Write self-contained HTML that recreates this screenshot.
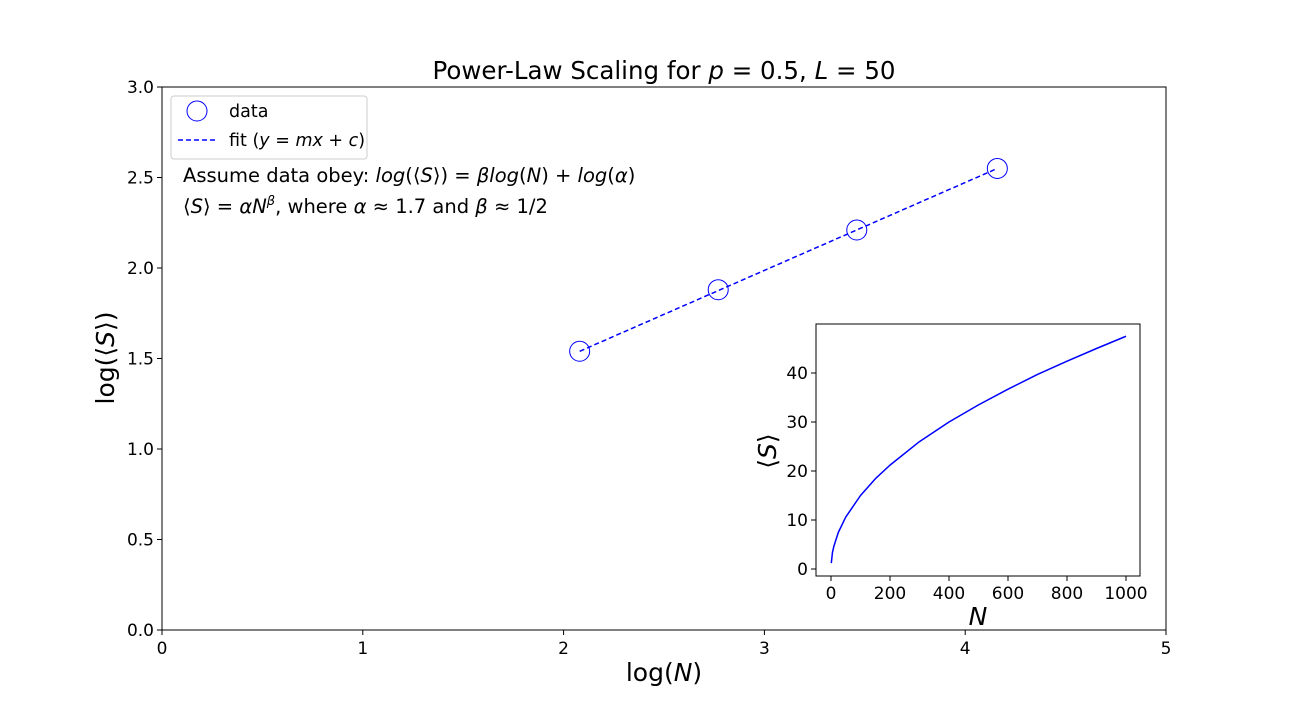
<!DOCTYPE html>
<html><head><meta charset="utf-8"><style>
body{margin:0;background:#fff;}
text{font-family:"DejaVu Sans","Liberation Sans",sans-serif;fill:#000;}
</style></head><body>
<svg id="chart" width="1296" height="720" xmlns="http://www.w3.org/2000/svg">
<rect width="1296" height="720" fill="#fff"/>
<text x="664" y="79" font-size="24.5" text-anchor="middle">Power-Law Scaling for <tspan font-style="italic">p</tspan> = 0.5,  <tspan font-style="italic">L</tspan> = 50</text>
<g id="main"></g>
<g id="inset"></g>
</svg>
<script>
const logN=[2.08,2.77,3.46,4.16];
const logS=[1.54,1.88,2.21,2.55];
const xTicks=[0,1,2,3,4,5];
const yTicks=[0.0,0.5,1.0,1.5,2.0,2.5,3.0];
const insetN=[1,5,10,25,50,100,150,200,300,400,500,600,700,800,900,1000];
const insetS=[1.2,3.4,4.7,7.5,10.6,15,18.4,21.2,26,30,33.5,36.7,39.7,42.4,45,47.5];
const insetXTicks=[0,200,400,600,800,1000];
const insetYTicks=[0,10,20,30,40];

const NS="http://www.w3.org/2000/svg";
function mk(tag,attrs,parent,txt){const e=document.createElementNS(NS,tag);for(const k in attrs)e.setAttribute(k,attrs[k]);if(txt!==undefined)e.textContent=txt;parent.appendChild(e);return e;}
const main=document.getElementById('main');
const X=v=>162+v*(1166-162)/5;
const Y=v=>630-v*(630-87)/3;
let r=mk('rect',{x:162,y:87,width:1004,height:543,fill:'none',stroke:'#000','stroke-width':1},main);


xTicks.forEach(t=>{
  let l=mk('line',{x1:X(t),x2:X(t),y1:630,y2:635,stroke:'#000'},main);
  
  
  let tx=mk('text',{x:X(t),y:654,'font-size':17,'text-anchor':'middle'},main,String(t));
  
  
});
yTicks.forEach(t=>{
  let l=mk('line',{x1:157,x2:162,y1:Y(t),y2:Y(t),stroke:'#000'},main);
  
  
  let tx=mk('text',{x:154,y:Y(t)+6,'font-size':17,'text-anchor':'end'},main,t.toFixed(1));
  
  
});
let xl=mk('text',{x:664,y:681,'font-size':25,'text-anchor':'middle'},main);
xl.innerHTML='log(<tspan font-style="italic">N</tspan>)';


let yl=mk('text',{x:0,y:0,'font-size':25,'text-anchor':'middle',transform:'translate(114,358) rotate(-90)'},main);
yl.innerHTML='log(⟨<tspan font-style="italic">S</tspan>⟩)';


let fit=mk('line',{x1:X(logN[0]),y1:Y(logS[0]),x2:X(logN[logN.length-1]),y2:Y(logS[logS.length-1]),stroke:'#0000ff','stroke-width':1.5,'stroke-dasharray':'5,3'},main);


logN.forEach((v,i)=>{
  let c=mk('circle',{cx:X(v),cy:Y(logS[i]),r:10,fill:'none',stroke:'#0000ff','stroke-width':1},main);
  
  
});
let lg=mk('g',{},main);


mk('rect',{x:171,y:96,width:196,height:63,rx:3,fill:'#fff',stroke:'#ccc'},lg);
mk('circle',{cx:197,cy:111,r:10,fill:'none',stroke:'#0000ff'},lg);
let le1=mk('text',{x:229,y:117,'font-size':17.5},lg,'data');


mk('line',{x1:178,x2:216,y1:140,y2:140,stroke:'#0000ff','stroke-width':1.5,'stroke-dasharray':'5,3'},lg);
let le2=mk('text',{x:229,y:146,'font-size':17.5},lg);
le2.innerHTML='fit (<tspan font-style="italic">y</tspan> = <tspan font-style="italic">mx</tspan> + <tspan font-style="italic">c</tspan>)';


let a1=mk('text',{x:183,y:182,'font-size':19.5},main);
a1.innerHTML='Assume data obey: <tspan font-style="italic">log</tspan>(⟨<tspan font-style="italic">S</tspan>⟩) = <tspan font-style="italic">βlog</tspan>(<tspan font-style="italic">N</tspan>) + <tspan font-style="italic">log</tspan>(<tspan font-style="italic">α</tspan>)';


let a2=mk('text',{x:183,y:213,'font-size':19.5},main);
a2.innerHTML='⟨<tspan font-style="italic">S</tspan>⟩ = <tspan font-style="italic">αN</tspan><tspan font-style="italic" font-size="13" dy="-8">β</tspan><tspan dy="8">, where </tspan><tspan font-style="italic">α</tspan> ≈ 1.7 and <tspan font-style="italic">β</tspan> ≈ 1/2';



const ins=document.getElementById('inset');
const IX=v=>831+v*(1126-831)/1000;
const IY=v=>569-v*(569-373)/40;
let ir=mk('rect',{x:816,y:324,width:324,height:252,fill:'#fff',stroke:'#000'},ins);


insetXTicks.forEach(t=>{
  mk('line',{x1:IX(t),x2:IX(t),y1:576,y2:581,stroke:'#000'},ins);
  let tx=mk('text',{x:IX(t),y:599,'font-size':17,'text-anchor':'middle'},ins,String(t));
  
  
});
insetYTicks.forEach(t=>{
  mk('line',{x1:811,x2:816,y1:IY(t),y2:IY(t),stroke:'#000'},ins);
  let tx=mk('text',{x:808,y:IY(t)+6,'font-size':17,'text-anchor':'end'},ins,String(t));
  
  
});
let ixl=mk('text',{x:978,y:625,'font-size':25,'font-style':'italic','text-anchor':'middle'},ins,'N');


let iyl=mk('text',{x:0,y:0,'font-size':25,'text-anchor':'middle',transform:'translate(776,451) rotate(-90)'},ins);
iyl.innerHTML='⟨<tspan font-style="italic">S</tspan>⟩';


let pts=insetN.map((n,i)=>IX(n)+','+IY(insetS[i])).join(' ');
let pl=mk('polyline',{points:pts,fill:'none',stroke:'#0000ff','stroke-width':1.5,'stroke-linejoin':'round'},ins);


</script>
</body></html>
